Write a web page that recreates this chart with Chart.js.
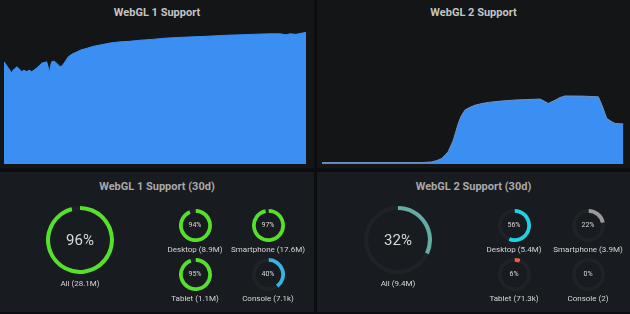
<!DOCTYPE html>
<html>
<head>
<meta charset="utf-8">
<script src="https://cdn.jsdelivr.net/npm/chart.js@4"></script>
<style>
  html, body { margin: 0; padding: 0; }
  body { width: 630px; height: 314px; background: #0c0d0f; position: relative; overflow: hidden;
         font-family: Roboto, "Open Sans", sans-serif; }
  .panel { position: absolute; }
  .top { background: #141517; }
  .bottom { background: #181b20; }
  .title { position: absolute; left: 0; right: 0; text-align: center; color: #c4c4c4; font-weight: 700; }
  canvas { position: absolute; }
  .txt { position: absolute; transform: translate(-50%, -50%); white-space: nowrap; color: #d8d8d8; }
</style>
</head>
<body>
<div class="panel top" style="left:0;top:0;width:314px;height:168px">
  <div class="title" style="top:6px;font-size:11px">WebGL 1 Support</div>
</div>
<div class="panel top" style="left:317px;top:0;width:313px;height:168px">
  <div class="title" style="top:6px;font-size:11px">WebGL 2 Support</div>
</div>
<div class="panel bottom" id="b1" style="left:0;top:172px;width:314px;height:140px">
  <div class="title" style="top:8px;font-size:11px;color:#a9a9a9">WebGL 1 Support (30d)</div>
</div>
<div class="panel bottom" id="b2" style="left:317px;top:172px;width:313px;height:140px">
  <div class="title" style="top:8px;font-size:11px;color:#a9a9a9">WebGL 2 Support (30d)</div>
</div>
<canvas id="area1" width="302" height="140" style="left:4px;top:24px"></canvas>
<canvas id="area2" width="302" height="140" style="left:322px;top:24px"></canvas>
<script>
// top charts: x in days across the range, y in percent
const webgl1Days = [0, 3, 7.7, 9, 13, 17.7, 20, 22.7, 25, 27.7, 30, 32.7, 35, 37.7, 40, 42.7, 44.3, 45.3, 46.5, 47.7,
  50, 52.7, 56, 58, 61, 64.3, 68, 72.7, 77, 82.7, 89, 96, 106, 115, 125, 136, 148, 160, 172, 184,
  196, 210, 224, 238, 252, 266, 276, 282, 286, 292, 296, 302];
const webgl1Values = [73, 70, 65, 67, 69.5, 66, 67, 66, 67, 66, 67, 68.6, 70, 72, 72.5, 73, 69, 64.8, 70, 73,
  73.5, 72, 69.5, 70, 73, 76.6, 78.5, 80, 81.5, 82.6, 84, 85, 86.4, 87.2, 87.6, 88.4, 89, 89.8, 90.3, 90.7,
  91, 91.5, 92, 92.3, 92.7, 93, 93, 92.3, 93, 92.6, 93.2, 94];

const webgl2Days = [0, 20, 40, 60, 80, 100, 109.7, 115, 119.7, 124, 126.3, 131.3, 136.3, 139, 143, 148, 153, 160,
  166.3, 180, 193, 205, 218, 222, 226.3, 233, 238, 243, 260, 276.3, 280, 284.7, 289, 293, 301.3];
const webgl2Values = [1, 1, 1, 1, 1, 1, 1.5, 2.5, 4, 7, 9, 17, 29, 34, 38.6, 40.5, 42, 43.2,
  44, 45, 45.7, 46, 46.4, 45, 43.3, 45.5, 47.5, 48.6, 48.5, 48, 42, 32.6, 30.5, 29, 28.6];

// gauges
const gl1Labels = ['All (28.1M)', 'Desktop (8.9M)', 'Smartphone (17.6M)', 'Tablet (1.1M)', 'Console (7.1k)'];
const gl1Percent = [96, 94, 97, 95, 40];
const gl2Labels = ['All (9.4M)', 'Desktop (5.4M)', 'Smartphone (3.9M)', 'Tablet (71.3k)', 'Console (2)'];
const gl2Percent = [32, 56, 22, 6, 0];

const gl1Colors = ['#57e02b', '#57e02b', '#57e02b', '#57e02b', '#38b6e3'];
const gl2Colors = ['#62aca4', '#20d2e2', '#9a9a9a', '#e8603c', '#8a8a8a'];

const BLUE = '#3b8ff3';

function areaChart(id, days, values, edge) {
  new Chart(document.getElementById(id), {
    type: 'line',
    data: {
      datasets: [{
        data: days.map((d, i) => ({ x: d, y: values[i] })),
        borderColor: edge,
        backgroundColor: BLUE,
        borderWidth: 1,
        fill: 'origin',
        pointRadius: 0,
        tension: 0
      }]
    },
    options: {
      responsive: false,
      animation: false,
      devicePixelRatio: 1,
      layout: { padding: 0 },
      scales: {
        x: { type: 'linear', min: 0, max: 302, display: false },
        y: { min: 0, max: 100, display: false }
      },
      plugins: { legend: { display: false }, tooltip: { enabled: false } }
    }
  });
}
areaChart('area1', webgl1Days, webgl1Values, BLUE);
areaChart('area2', webgl2Days, webgl2Values, '#6f93c4');

// gauge placement (page coords)
const gaugeSpots = [
  { cx: 80, cy: 240, r: 33, cut: '88%', fs: 15, ly: 283 },
  { cx: 195, cy: 225, r: 15.5, cut: '77%', fs: 7, ly: 249 },
  { cx: 268, cy: 225, r: 15.5, cut: '77%', fs: 7, ly: 249 },
  { cx: 195, cy: 274, r: 15.5, cut: '77%', fs: 7, ly: 298 },
  { cx: 268, cy: 274, r: 15.5, cut: '77%', fs: 7, ly: 298 }
];

function gauge(cx, cy, s, pct, color, label) {
  const size = Math.round(s.r * 2) + 2;
  const c = document.createElement('canvas');
  c.width = size; c.height = size;
  c.style.left = (cx - size / 2) + 'px';
  c.style.top = (cy - size / 2) + 'px';
  document.body.appendChild(c);
  new Chart(c, {
    type: 'doughnut',
    data: {
      datasets: [{
        data: [pct, 100 - pct],
        backgroundColor: [color, '#1f2227'],
        borderWidth: 0
      }]
    },
    options: {
      responsive: false,
      animation: false,
      devicePixelRatio: 1,
      cutout: s.cut,
      layout: { padding: 0 },
      plugins: { legend: { display: false }, tooltip: { enabled: false } }
    }
  });
  const t = document.createElement('div');
  t.className = 'txt';
  t.style.left = cx + 'px'; t.style.top = cy + 'px';
  t.style.fontSize = s.fs + 'px';
  t.textContent = pct + '%';
  document.body.appendChild(t);
  const l = document.createElement('div');
  l.className = 'txt';
  l.style.left = cx + 'px'; l.style.top = s.ly + 'px';
  l.style.fontSize = '8px';
  l.style.color = '#d6d6d6';
  l.textContent = label;
  document.body.appendChild(l);
}

gaugeSpots.forEach((s, i) => gauge(s.cx, s.cy, s, gl1Percent[i], gl1Colors[i], gl1Labels[i]));
const shift = [318, 319, 320, 319, 320];
gaugeSpots.forEach((s, i) => gauge(s.cx + shift[i], s.cy, s, gl2Percent[i], gl2Colors[i], gl2Labels[i]));
</script>
</body>
</html>
